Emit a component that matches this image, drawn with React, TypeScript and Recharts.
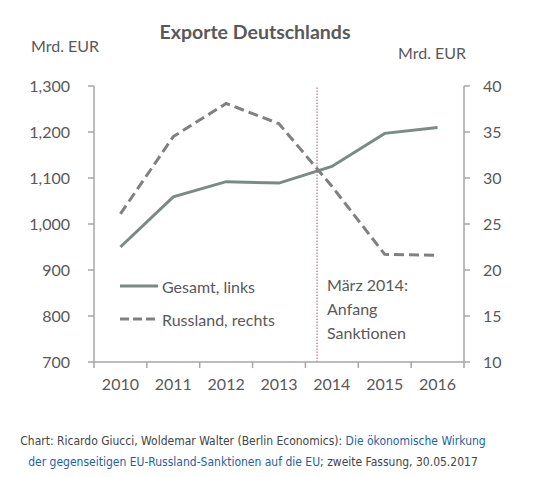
import { LineChart, Line, XAxis, YAxis, ReferenceLine } from 'recharts';

const years = [2010, 2011, 2012, 2013, 2014, 2015, 2016];
const gesamt = [950, 1059, 1092, 1089, 1125, 1197, 1210];
const russland = [26.1, 34.5, 38.1, 35.9, 29.1, 21.7, 21.6];
const leftTicks = [700, 800, 900, 1000, 1100, 1200, 1300];
const rightTicks = [10, 15, 20, 25, 30, 35, 40];
const xBoundaries = [2009.5, 2010.5, 2011.5, 2012.5, 2013.5, 2014.5, 2015.5, 2016.5];
const sanktionenX = 2013.72;

const data = years.map((year, i) => ({ year, gesamt: gesamt[i], russland: russland[i] }));

const FONT = 'Lato, "Open Sans", sans-serif';
const TEXT = '#595959';
const AXIS = '#a6a6a6';
const BAND = 370 / 7;

const YearTick = (props: any) => {
  const { x, y, payload } = props;
  if (payload.value > 2016) return null;
  return (
    <text x={x + BAND / 2} y={y + 20} textAnchor="middle" fill={TEXT} fontSize={16} fontFamily={FONT}>
      {payload.value + 0.5}
    </text>
  );
};

const LegendBox = () => (
  <svg width={200} height={60} style={{ position: 'absolute', left: 118, top: 274 }}>
    <line x1={2} x2={40} y1={12} y2={12} stroke="#7b8b84" strokeWidth={3} />
    <text x={44} y={12} dominantBaseline="central" fill={TEXT} fontSize={16} fontFamily={FONT}>
      Gesamt, links
    </text>
    <line x1={2} x2={37} y1={45} y2={45} stroke="#808080" strokeWidth={3} strokeDasharray="9 4" />
    <text x={44} y={45} dominantBaseline="central" fill={TEXT} fontSize={16} fontFamily={FONT}>
      Russland, rechts
    </text>
  </svg>
);

const SanktionenLabel = (props: any) => {
  const { viewBox } = props;
  const x = viewBox.x + 10;
  return (
    <text x={x} y={284} fill={TEXT} fontSize={16} fontFamily={FONT} dominantBaseline="central">
      <tspan x={x} dy={0}>März 2014:</tspan>
      <tspan x={x} dy={24}>Anfang</tspan>
      <tspan x={x} dy={24}>Sanktionen</tspan>
    </text>
  );
};

export default function App() {
  return (
    <div style={{ position: 'absolute', left: 0, top: 0, width: 560, height: 477, background: '#fff', fontFamily: FONT }}>
      <div style={{ position: 'absolute', left: 0, width: 510, top: 20, textAlign: 'center', fontWeight: 700, fontSize: 19.5, color: TEXT }}>
        Exporte Deutschlands
      </div>
      <div style={{ position: 'absolute', left: 31, top: 36, fontSize: 16, color: TEXT }}>Mrd. EUR</div>
      <div style={{ position: 'absolute', left: 398, top: 43, fontSize: 16, color: TEXT }}>Mrd. EUR</div>
      <div style={{ position: 'absolute', left: 0, top: 0 }}>
        <LineChart width={560} height={420} data={data} margin={{ top: 86, right: 0, bottom: 28, left: 0 }}>
          <XAxis
            dataKey="year"
            type="number"
            domain={[2009.5, 2016.5]}
            ticks={xBoundaries}
            tick={<YearTick />}
            tickSize={6}
            height={30}
            stroke={AXIS}
            strokeWidth={1.5}
            interval={0}
          />
          <YAxis
            yAxisId="left"
            domain={[700, 1300]}
            ticks={leftTicks}
            tickFormatter={(v: number) => v.toLocaleString('en-US')}
            width={94}
            tickSize={6}
            tickMargin={18}
            stroke={AXIS}
            strokeWidth={1.5}
            tick={{ fill: TEXT, fontSize: 16, fontFamily: FONT }}
            interval={0}
          />
          <YAxis
            yAxisId="right"
            orientation="right"
            domain={[10, 40]}
            ticks={rightTicks}
            width={96}
            tickSize={6}
            tickMargin={13}
            stroke={AXIS}
            strokeWidth={1.5}
            tick={{ fill: TEXT, fontSize: 16, fontFamily: FONT }}
            interval={0}
          />
          <ReferenceLine
            yAxisId="left"
            x={sanktionenX}
            stroke="#b8728e"
            strokeWidth={1.2}
            strokeDasharray="1.5 1.5"
            label={<SanktionenLabel />}
          />
          <Line
            yAxisId="left"
            dataKey="gesamt"
            name="Gesamt, links"
            stroke="#7b8b84"
            strokeWidth={3}
            dot={false}
            isAnimationActive={false}
          />
          <Line
            yAxisId="right"
            dataKey="russland"
            name="Russland, rechts"
            stroke="#808080"
            strokeWidth={3}
            strokeDasharray="10 5"
            dot={false}
            isAnimationActive={false}
          />
        </LineChart>
      </div>
      <LegendBox />
      <div style={{ position: 'absolute', left: 0, width: 506, top: 431, textAlign: 'center', fontFamily: '"DejaVu Sans Condensed", "DejaVu Sans", sans-serif', fontSize: 12, lineHeight: '21px', color: '#444' }}>
        Chart: Ricardo Giucci, Woldemar Walter (Berlin Economics):{' '}
        <span style={{ color: '#1f5fa8' }}>Die ökonomische Wirkung</span>
        <br />
        <span style={{ color: '#1f5fa8' }}>der gegenseitigen EU-Russland-Sanktionen auf die EU</span>; zweite Fassung, 30.05.2017
      </div>
    </div>
  );
}
